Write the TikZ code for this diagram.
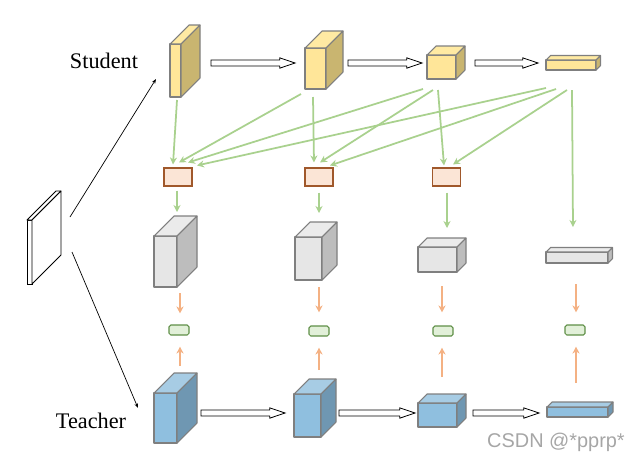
\documentclass[tikz,border=0pt]{standalone}
\usepackage{fontspec}
\setmainfont{Liberation Serif}
\newfontfamily\markfont{Liberation Sans}
\usetikzlibrary{positioning, arrows.meta, calc}
\definecolor{yfront}{HTML}{FFE699}
\definecolor{ytop}{HTML}{FFEAA3}
\definecolor{yside}{HTML}{C9B570}
\definecolor{gfront}{HTML}{E6E6E6}
\definecolor{gtop}{HTML}{EBEBEB}
\definecolor{gside}{HTML}{BDBDBD}
\definecolor{bfront}{HTML}{8FBFDF}
\definecolor{btop}{HTML}{A7CCE4}
\definecolor{bside}{HTML}{6F97B2}
\definecolor{cubeedge}{HTML}{7F7F7F}
\definecolor{peach}{HTML}{FBE5D6}
\definecolor{brownedge}{HTML}{A0582B}
\definecolor{paleg}{HTML}{E2F0D9}
\definecolor{greenedge}{HTML}{5E8F46}
\definecolor{linkgreen}{HTML}{A9D18E}
\definecolor{linkorange}{HTML}{F4B183}
\tikzset{
  fmap/.style={
    draw=cubeedge,
    line width=0.9pt,
    line join=round,
    inner sep=0pt,
    outer sep=0pt
  },
  adapter/.style={
    rectangle,
    draw=brownedge, line width=0.9pt,
    fill=peach,
    minimum width=28*0.03cm,
    minimum height=18*0.03cm,
    inner sep=0pt
  },
  loss/.style={
    rectangle,
    rounded corners=1.5pt,
    draw=greenedge, line width=0.9pt,
    fill=paleg,
    minimum width=20*0.03cm,
    minimum height=10*0.03cm,
    inner sep=0pt
  },
  glink/.style={
    draw=linkgreen,
    line width=1.5pt,
    -{Stealth[length=6pt, width=6pt]}
  },
  olink/.style={
    draw=linkorange,
    line width=1.5pt,
    -{Stealth[length=6pt, width=6pt]}
  },
  arrow/.style={
    draw=black,
    line width=0.6pt,
    -{Stealth[length=4pt, width=3pt]}
  },
  hollowarrow/.style={
    draw=black,
    fill=white,
    line width=0.7pt,
    line join=miter
  },
  label/.style={
    font=\fontsize{19}{22}\selectfont,
    inner sep=0pt
  }
}
% feature map: name, top-left, width, height, depth, colour prefix
\newcommand{\featmap}[6]{%
  \node[fmap, fill=#6front, minimum width=#3*0.03cm, minimum height=#4*0.03cm, anchor=north west] (#1) at (#2) {};
  \draw[fmap, fill=#6top] (#1.north west) -- ++(#5,-#5) -- ($(#1.north east)+(#5,-#5)$) -- (#1.north east) -- cycle;
  \draw[fmap, fill=#6side] (#1.north east) -- ++(#5,-#5) -- ($(#1.south east)+(#5,-#5)$) -- (#1.south east) -- cycle;
}
% block arrow between two points, at the height of the first one
\newcommand{\hollow}[2]{%
  \draw[hollowarrow] let \p1=(#1), \p2=(#2) in
    (\x1,\y1+2.6pt) -- (\x2-13pt,\y1+2.6pt) -- (\x2-13pt,\y1+4.4pt) -- (\x2,\y1)
    -- (\x2-13pt,\y1-4.4pt) -- (\x2-13pt,\y1-2.6pt) -- (\x1,\y1-2.6pt) -- cycle;
}

\begin{document}
\begin{tikzpicture}[x=0.03cm, y=-0.03cm]
\useasboundingbox (0,0) rectangle (637,462);

% input image
\node[draw=black, fill=white, line width=0.7pt, inner sep=0pt, outer sep=0pt,
  minimum width=5*0.03cm, minimum height=64*0.03cm, anchor=north west] (img) at (27,220) {};
\draw[black, fill=white, line width=0.7pt, line join=round] (img.north west) -- ++(29,-29) -- ($(img.north east)+(29,-29)$) -- (img.north east) -- cycle;
\draw[black, fill=white, line width=0.7pt, line join=round] (img.north east) -- ++(29,-29) -- ($(img.south east)+(29,-29)$) -- (img.south east) -- cycle;

% student
\featmap{s1}{170,44}{11}{53}{19}{y}
\featmap{s2}{305,48}{21}{41}{17}{y}
\featmap{s3}{427,55}{29}{24}{9}{y}
\featmap{s4}{546,60}{50}{10}{4.5}{y}

% adapted student features
\featmap{g1}{154,236}{23}{51}{20}{g}
\featmap{g2}{295,237}{27}{43}{15}{g}
\featmap{g3}{418,247}{39}{25}{9}{g}
\featmap{g4}{546,252}{62}{11}{4.5}{g}

% teacher
\featmap{t1}{154,393}{23}{50}{20}{b}
\featmap{t2}{294,394}{27}{43}{15}{b}
\featmap{t3}{418,403}{39}{24}{9}{b}
\featmap{t4}{547,407}{61}{10}{5}{b}

% adapters and losses
\node[adapter] (b1) at (178,177) {};
\node[adapter] (b2) at (319,177) {};
\node[adapter] (b3) at (446.5,177) {};

\node[loss] (l1) at (179,330) {};
\node[loss] (l2) at (319,331) {};
\node[loss] (l3) at (443,331) {};
\node[loss] (l4) at (575,330) {};

% labels
\node[label] (student) at (104,61) {Student};
\node[label] (teacher) at (91,421) {Teacher};
\node[font=\markfont\fontsize{17}{20}\selectfont, text=black!35, inner sep=0pt] (mark) at (556,442) {CSDN @*pprp*};

% edges

%% input
\draw[arrow] ($(img.north east)+(38,-3)$) -- ($(s1.south west)+(-14,-18)$);
\draw[arrow] ($(img.east)+(40,0)$) -- ($(t1.west)+(-16,-10)$);

%% stages
\hollow{$(s1.east)+(30,-7.5)$}{$(s2.west)+(-10,0)$}
\hollow{$(s2.east)+(22,-5.5)$}{$(s3.west)+(-5,0)$}
\hollow{$(s3.east)+(19,-4)$}{$(s4.west)+(-8,0)$}
\hollow{$(t1.east)+(24,-5)$}{$(t2.west)+(-9,0)$}
\hollow{$(t2.east)+(18,-2.5)$}{$(t3.west)+(-3,0)$}
\hollow{$(t3.east)+(16,-2)$}{$(t4.west)+(-8,0)$}

%% student -> adapters
\draw[glink] ($(s1.south)+(1.5,3)$) -- ($(b1.north)+(-5,-3)$);
\draw[glink] ($(s2.south west)+(-4,5)$) -- ($(b1.north)+(1,-5)$);
\draw[glink] ($(s2.south)+(-2.5,8)$) -- ($(b2.north)+(-5,-5)$);
\draw[glink] ($(s3.south west)+(-4,10)$) -- ($(b1.north)+(10,-5)$);
\draw[glink] ($(s3.south west)+(6,11)$) -- ($(b2.north)+(1,-5)$);
\draw[glink] ($(s3.south west)+(11,11)$) -- ($(b3.north)+(-2.5,-2)$);
\draw[glink] ($(s4.south west)+(0,18)$) -- ($(b1.north)+(19,-2)$);
\draw[glink] ($(s4.south west)+(10,19)$) -- ($(b2.north)+(11,-2)$);
\draw[glink] ($(s4.south west)+(21,20)$) -- ($(b3.north)+(6.5,-3)$);
\draw[glink] ($(s4.south west)+(26,20)$) -- ($(g4.north)+(-4,-25)$);

%% adapters -> features
\draw[glink] ($(b1.south)+(-1,4)$) -- ($(g1.north east)+(0,-24)$);
\draw[glink] ($(b2.south)+(0,6)$) -- ($(g2.north east)+(-3,-24)$);
\draw[glink] ($(b3.south)+(0.5,6)$) -- ($(g3.north east)+(-10,-19)$);

%% losses
\draw[olink] ($(g1.south east)+(3,6)$) -- ($(l1.north)+(1,-11)$);
\draw[olink] ($(t1.north east)+(3,-27)$) -- ($(l1.south)+(1,11)$);
\draw[olink] ($(g2.south east)+(-3,7)$) -- ($(l2.north)+(0,-13)$);
\draw[olink] ($(t2.north east)+(-2,-24)$) -- ($(l2.south)+(0,11)$);
\draw[olink] ($(g3.south)+(4.5,14)$) -- ($(l3.north)+(-1,-13)$);
\draw[olink] ($(t3.north)+(4.5,-26)$) -- ($(l3.south)+(-1,11)$);
\draw[olink] ($(g4.south)+(-1,21)$) -- ($(l4.north)+(1,-12)$);
\draw[olink] ($(t4.north)+(-1.5,-24)$) -- ($(l4.south)+(1,11)$);

\end{tikzpicture}
\end{document}
